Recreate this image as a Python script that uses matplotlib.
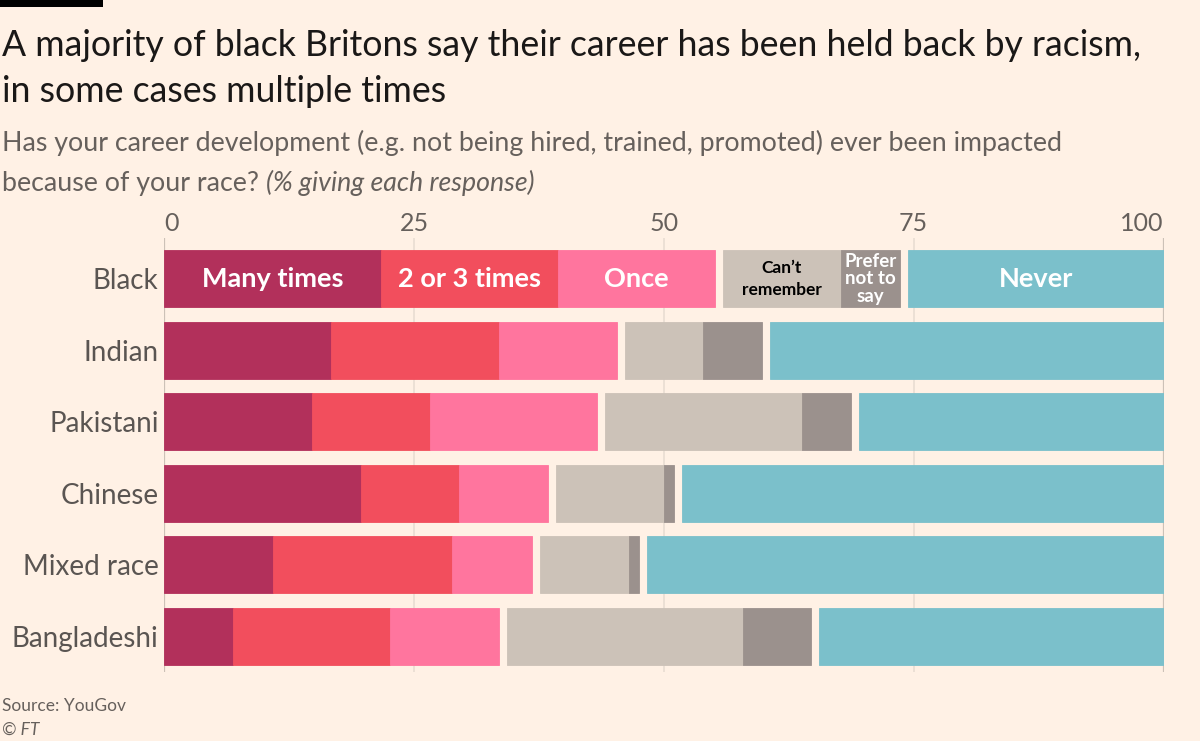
import matplotlib
matplotlib.use("Agg")
import matplotlib.pyplot as plt
import numpy as np

# ---- data ----
groups = ["Black", "Indian", "Pakistani", "Chinese", "Mixed race", "Bangladeshi"]
responses = ["Many times", "2 or 3 times", "Once", "Can\u2019t remember", "Prefer not to say", "Never"]
many_times = [22, 17, 15, 20, 11, 7]
two_or_three = [18, 17, 12, 10, 18, 16]
once = [16, 12, 17, 9, 8, 11]
cant_remember = [12, 8, 20, 11, 9, 24]
prefer_not = [6, 6, 5, 1, 1, 7]
never = [26, 40, 31, 49, 52, 35]
x_ticks = [0, 25, 50, 75, 100]

colors = ["#b2305b", "#f24e5d", "#ff759e", "#ccc2b8", "#9b918d", "#7bc0cb"]
label_colors = ["white", "white", "white", "black", "white", "white"]
segment_texts = ["Many times", "2 or 3 times", "Once", "Can\u2019t\nremember", "Prefer\nnot to\nsay", "Never"]
segment_sizes = [19.5, 19.5, 19.5, 12.5, 13.5, 19.5]
segment_spacing = [1.1, 1.1, 1.1, 1.45, 1.05, 1.1]

BG = "#fff1e5"
GAP = 0.8

plt.rcParams["font.family"] = ["Lato", "DejaVu Sans"]

fig = plt.figure(figsize=(12, 7.41), dpi=100, facecolor=BG)
ax = fig.add_axes([0.1368, 0.0931, 0.9696 - 0.1368, 0.5857])
ax.set_facecolor(BG)

series = [many_times, two_or_three, once, cant_remember, prefer_not, never]
data = np.array(series, dtype=float).T  # rows = groups
totals = data.sum(axis=1, keepdims=True)
scaled = data / totals * (100 - 2 * GAP)

y = np.arange(len(groups))
bar_h = 0.8
for i in range(len(groups)):
    left = 0.0
    for j in range(len(responses)):
        if j in (3, 5):
            left += GAP
        w = scaled[i, j]
        ax.barh(y[i], w, left=left, height=bar_h, color=colors[j],
                edgecolor=colors[j], linewidth=0.6, zorder=3)
        if i == 0:
            ax.text(left + w / 2, y[i], segment_texts[j], ha="center", va="center",
                    color=label_colors[j], fontsize=segment_sizes[j], fontweight="bold",
                    linespacing=segment_spacing[j], zorder=4)
        left += w

ax.set_xlim(0, 100)
ax.set_ylim(5.5, -0.57)

# gridlines
for t in x_ticks:
    c = "#ccc1b7" if t in (0, 100) else "#e9ddd2"
    lw = 1.6 if t in (0, 100) else 1.2
    ax.axvline(t, color=c, lw=lw, zorder=1)

for s in ax.spines.values():
    s.set_visible(False)

ax.xaxis.set_ticks_position("top")
ax.set_xticks(x_ticks)
ax.set_xticklabels([str(t) for t in x_ticks], fontsize=18, color="#66605c")
ax.tick_params(axis="x", length=0, pad=2)
tl = ax.get_xticklabels()
tl[0].set_ha("left")
tl[-1].set_ha("right")

ax.set_yticks(y)
ax.set_yticklabels(groups, fontsize=20, color="#5a5552")
ax.tick_params(axis="y", length=0, pad=4)

# header
fig.add_artist(plt.Rectangle((0, 1 - 7 / 741), 103 / 1200, 7 / 741,
                             transform=fig.transFigure, color="black", lw=0))
fig.text(0.002, 1 - 45 / 741, "A majority of black Britons say their career has been held back by racism,",
         fontsize=25.7, color="#1a1817", va="center", ha="left")
fig.text(0.002, 1 - 92 / 741, "in some cases multiple times",
         fontsize=25.7, color="#1a1817", va="center", ha="left")
fig.text(0.002, 1 - 143 / 741,
         "Has your career development (e.g. not being hired, trained, promoted) ever been impacted",
         fontsize=19.3, color="#66605c", va="center", ha="left")
t1 = fig.text(0.002, 1 - 183 / 741, "because of your race? ",
              fontsize=19.3, color="#66605c", va="center", ha="left")
fig.canvas.draw()
bb = t1.get_window_extent()
fig.text(bb.x1 / fig.bbox.width, 1 - 183 / 741, "(% giving each response)",
         fontsize=19.3, color="#66605c", va="center", ha="left", style="italic")

fig.text(0.002, 1 - 706 / 741, "Source: YouGov", fontsize=12.5, color="#66605c", va="center")
fig.text(0.002, 1 - 730 / 741, "\u00a9 FT", fontsize=12.5, color="#66605c", va="center", style="italic")

fig.savefig("out.png", dpi=100, facecolor=BG)
